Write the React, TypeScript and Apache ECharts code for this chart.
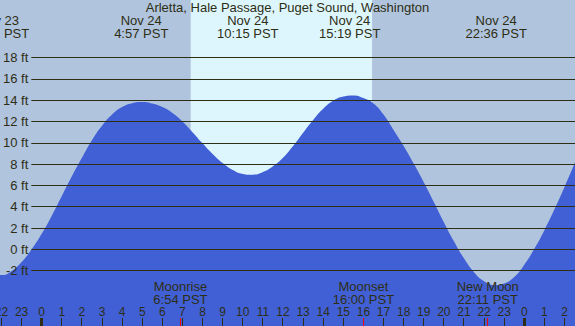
import React, { useEffect, useRef } from "react";
import * as echarts from "echarts";

// ---- data (hours relative to midnight starting Nov 24, PST) ----
const chartTitle = "Arletta, Hale Passage, Puget Sound, Washington";

const tideHours = [
  -3, -2.5, -2, -1.5, -1, -0.5, 0, 0.5, 1, 1.5, 2, 2.5, 3, 3.5, 4, 4.5, 5, 5.5,
  6, 6.5, 7, 7.5, 8, 8.5, 9, 9.5, 10, 10.5, 11, 11.5, 12, 12.5, 13, 13.5, 14,
  14.5, 15, 15.5, 16, 16.5, 17, 17.5, 18, 18.5, 19, 19.5, 20, 20.5, 21, 21.5,
  22, 22.5, 23, 23.5, 24, 24.5, 25, 25.5, 26, 26.5, 27,
];
const tideFeet = [
  -2.05, -2.38, -2.42, -2.05, -1.2, 0.0, 1.45, 3.15, 5.0, 6.85, 8.6, 10.25,
  11.6, 12.65, 13.35, 13.72, 13.83, 13.68, 13.35, 12.8, 12.0, 11.0, 9.95, 8.95,
  8.1, 7.45, 7.08, 7.0, 7.25, 7.8, 8.6, 9.7, 10.95, 12.15, 13.2, 13.95, 14.35,
  14.45, 14.2, 13.7, 12.65, 11.2, 9.7, 8.05, 6.3, 4.45, 2.55, 0.75, -0.85,
  -2.15, -3.0, -3.35, -3.2, -2.6, -1.45, 0.05, 1.8, 3.75, 5.85, 8.05, 10.3,
];

const extremeHours = [-2.15, 4.95, 10.25, 15.317, 22.6];
const extremeDates = ["Nov 23", "Nov 24", "Nov 24", "Nov 24", "Nov 24"];
const extremeTimes = ["21:51 PST", "4:57 PST", "10:15 PST", "15:19 PST", "22:36 PST"];

const moonHours = [6.9, 16.0, 22.183];
const moonNames = ["Moonrise", "Moonset", "New Moon"];
const moonTimes = ["6:54 PST", "16:00 PST", "22:11 PST"];

const hourTicks = [
  -2, -1, 0, 1, 2, 3, 4, 5, 6, 7, 8, 9, 10, 11, 12, 13, 14, 15, 16, 17, 18, 19,
  20, 21, 22, 23, 24, 25, 26,
];
const midnightHours = [0, 24];
const sunriseHour = 7.41;
const sunsetHour = 16.43;

const feetMin = -2;
const feetMax = 18;
const feetStep = 2;

// ---- styles ----
const BG = "#b0c4de";
const DAY = "#ddf6fe";
const WATER = "#4160d5";
const INK = "#2e2e14";
const FONT = "Liberation Sans";

export default function App() {
  const ref = useRef<HTMLDivElement>(null);

  useEffect(() => {
    if (!ref.current) return;
    const chart = echarts.init(ref.current, undefined, { renderer: "svg" });

    const txt = { fill: INK, fontSize: 13, fontFamily: FONT, align: "center", verticalAlign: "middle" };

    const option: any = {
      animation: false,
      backgroundColor: BG,
      textStyle: { fontFamily: FONT },
      title: {
        text: chartTitle,
        left: "center",
        top: 0.5,
        padding: 0,
        textStyle: { fontSize: 13, lineHeight: 13, fontWeight: "normal", color: INK, fontFamily: FONT },
      },
      grid: [
        { left: 0, right: 0, top: 0, bottom: 0 },
        { left: 29, right: 0, top: 57.6, bottom: 55.4 },
      ],
      xAxis: [
        { gridIndex: 0, type: "value", min: -2.0738, max: 26.522, show: false },
        { gridIndex: 1, type: "value", min: 0, max: 1, show: false },
      ],
      yAxis: [
        { gridIndex: 0, type: "value", min: -7.202, max: 23.408, show: false },
        {
          gridIndex: 1,
          type: "value",
          min: feetMin,
          max: feetMax,
          interval: feetStep,
          z: 10,
          axisLine: { show: false },
          axisTick: { show: false },
          splitLine: { show: true, lineStyle: { color: INK, width: 1 } },
          axisLabel: { margin: 3, fontSize: 13, color: INK, fontFamily: FONT, formatter: "{value} ft" },
        },
      ],
      series: [
        {
          type: "line",
          xAxisIndex: 0,
          yAxisIndex: 0,
          data: [],
          z: 1,
          markArea: {
            silent: true,
            itemStyle: { color: DAY },
            data: [[{ xAxis: sunriseHour }, { xAxis: sunsetHour }]],
          },
        },
        {
          type: "line",
          xAxisIndex: 0,
          yAxisIndex: 0,
          z: 2,
          data: tideHours.map((h, i) => [h, tideFeet[i]]),
          smooth: 0.5,
          symbol: "none",
          lineStyle: { width: 0 },
          areaStyle: { color: WATER, opacity: 1, origin: "start" },
        },
        {
          // hour ticks + labels
          type: "custom",
          xAxisIndex: 0,
          yAxisIndex: 0,
          z: 12,
          clip: false,
          data: hourTicks.map((h) => [h, 0]),
          renderItem: (params: any, api: any) => {
            const h = api.value(0);
            const x = api.coord([h, 0])[0];
            const label = String(((h % 24) + 24) % 24);
            return {
              type: "group",
              children: [
                {
                  type: "rect",
                  shape: { x: Math.round(x - 0.5), y: 318, width: 1, height: 8 },
                  style: { fill: INK },
                },
                { type: "text", x, y: 312.4, style: { ...txt, fontSize: 12, text: label } },
              ],
            };
          },
        },
        {
          // midnight and moon-event ticks
          type: "custom",
          xAxisIndex: 0,
          yAxisIndex: 0,
          z: 13,
          clip: false,
          data: [
            ...midnightHours.map((h) => [h, 0]),
            ...moonHours.map((h) => [h, 1]),
          ],
          renderItem: (params: any, api: any) => {
            const x = api.coord([api.value(0), 0])[0];
            const kind = api.value(1);
            const w = kind === 0 ? 3 : 1;
            return {
              type: "rect",
              shape: { x: Math.round(x - w / 2), y: 318, width: w, height: 8 },
              style: { fill: kind === 0 ? INK : "#ff0000" },
            };
          },
        },
        {
          type: "custom",
          xAxisIndex: 0,
          yAxisIndex: 0,
          z: 12,
          clip: false,
          data: extremeHours.map((h) => [h, 0]),
          renderItem: (params: any, api: any) => {
            const x = api.coord([api.value(0), 0])[0];
            const i = params.dataIndex;
            return {
              type: "group",
              children: [
                { type: "text", x, y: 20.2, style: { ...txt, text: extremeDates[i] } },
                { type: "text", x, y: 33.4, style: { ...txt, text: extremeTimes[i] } },
              ],
            };
          },
        },
        {
          type: "custom",
          xAxisIndex: 0,
          yAxisIndex: 0,
          z: 12,
          clip: false,
          data: moonHours.map((h) => [h, 0]),
          renderItem: (params: any, api: any) => {
            const x = api.coord([api.value(0), 0])[0];
            const i = params.dataIndex;
            return {
              type: "text",
              x,
              y: 292.6,
              style: { ...txt, lineHeight: 13, text: moonNames[i] + "\n" + moonTimes[i] },
            };
          },
        },
      ],
    };

    chart.setOption(option);
    return () => chart.dispose();
  }, []);

  return (
    <div
      ref={ref}
      style={{ position: "fixed", left: 0, top: 0, width: 575, height: 326 }}
    />
  );
}
